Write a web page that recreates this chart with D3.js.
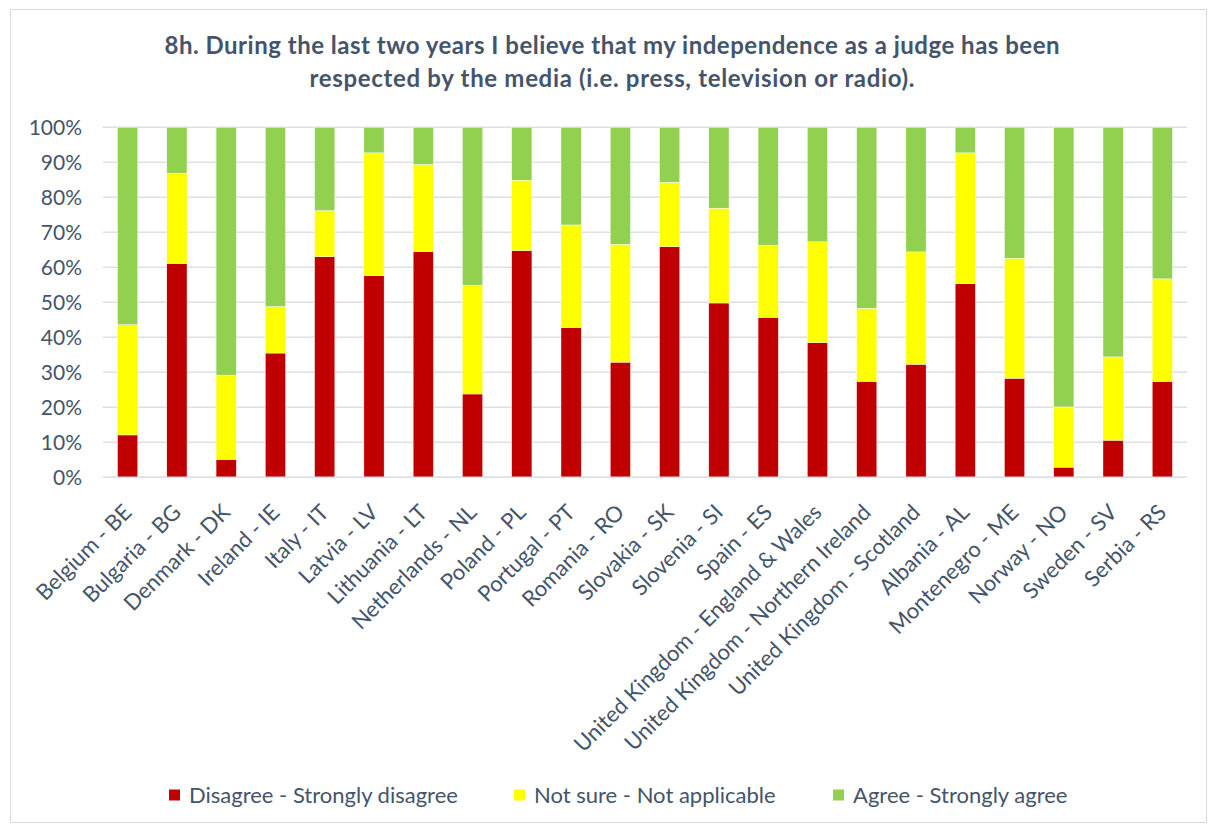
<!DOCTYPE html>
<html>
<head>
<meta charset="utf-8">
<script src="https://cdn.jsdelivr.net/npm/d3@7"></script>
<style>
  html, body { margin: 0; padding: 0; background: #fff; }
  svg { display: block; }
  text { font-family: Lato, "Open Sans", sans-serif; fill: #44546A; }
</style>
</head>
<body>
<svg id="chart" width="1210" height="827"></svg>
<script>
const categories = [
  "Belgium - BE", "Bulgaria - BG", "Denmark - DK", "Ireland - IE", "Italy - IT",
  "Latvia - LV", "Lithuania - LT", "Netherlands - NL", "Poland - PL", "Portugal - PT",
  "Romania - RO", "Slovakia - SK", "Slovenia - SI", "Spain - ES",
  "United Kingdom - England & Wales", "United Kingdom - Northern Ireland",
  "United Kingdom - Scotland", "Albania - AL", "Montenegro - ME", "Norway - NO",
  "Sweden - SV", "Serbia - RS"
];
const disagree = [12.1, 61.1, 5.1, 35.5, 63.0, 57.6, 64.5, 23.8, 64.8, 42.8, 32.9, 65.9, 49.8, 45.7, 38.5, 27.4, 32.3, 55.3, 28.3, 2.9, 10.6, 27.4];
const notSure  = [31.5, 25.8, 24.1, 13.3, 13.2, 35.1, 24.9, 31.1, 20.1, 29.3, 33.7, 18.4, 27.1, 20.6, 28.8, 20.9, 32.1, 37.4, 34.3, 17.2, 23.8, 29.3];
const agree    = disagree.map((d, i) => +(100 - d - notSure[i]).toFixed(1));
const seriesNames = ["Disagree - Strongly disagree", "Not sure - Not applicable", "Agree - Strongly agree"];
const seriesColors = ["#C00000", "#FFFF00", "#92D050"];
const yTicks = [0, 10, 20, 30, 40, 50, 60, 70, 80, 90, 100];
const titleLines = [
  "8h. During the last two years I believe that my independence as a judge has been",
  "respected by the media (i.e. press, television or radio)."
];

const svg = d3.select("#chart");

// outer chart border
svg.append("rect").attr("x", 10.5).attr("y", 9.5).attr("width", 1196).attr("height", 813)
  .attr("fill", "#fff").attr("stroke", "#D9D9D9").attr("stroke-width", 1);

const plot = { left: 103, right: 1187, top: 127.3, bottom: 477.3 };

const x = d3.scaleBand().domain(categories).range([plot.left, plot.right]).paddingInner(0.59).paddingOuter(0.295);
const y = d3.scaleLinear().domain([0, 100]).range([plot.bottom, plot.top]);

// gridlines
svg.append("g").selectAll("line").data(yTicks).join("line")
  .attr("x1", plot.left).attr("x2", plot.right)
  .attr("y1", d => y(d)).attr("y2", d => y(d))
  .attr("stroke", "#DCE0E6").attr("stroke-width", 1.5);

// y axis
const yAxis = d3.axisLeft(y).tickValues(yTicks).tickFormat(d => d + "%").tickSize(0).tickPadding(0);
const yg = svg.append("g").attr("transform", `translate(${82},0)`).call(yAxis);
yg.select(".domain").remove();
yg.selectAll("text").attr("font-size", 21).style("font-family", "Lato, sans-serif").attr("fill", "#44546A");

// stacked data
const rows = categories.map((c, i) => ({ cat: c, s0: disagree[i], s1: notSure[i], s2: agree[i] }));
const stack = d3.stack().keys(["s0", "s1", "s2"]);
const stacked = stack(rows);

svg.append("g").selectAll("g").data(stacked).join("g")
  .attr("fill", (d, i) => seriesColors[i])
  .selectAll("rect").data(d => d).join("rect")
  .attr("x", d => x(d.data.cat))
  .attr("width", x.bandwidth())
  .attr("y", d => y(d[1]))
  .attr("height", d => y(d[0]) - y(d[1]))
  .attr("stroke", "#fff").attr("stroke-width", 0.4);

// baseline
svg.append("line").attr("x1", plot.left).attr("x2", plot.right)
  .attr("y1", y(0)).attr("y2", y(0)).attr("stroke", "#DCE0E6").attr("stroke-width", 1.5);

// x axis labels
const xAxis = d3.axisBottom(x).tickSize(0).tickPadding(0);
const xg = svg.append("g").attr("transform", `translate(0,${plot.bottom})`).call(xAxis);
xg.select(".domain").remove();
xg.selectAll("text")
  .attr("font-size", 22).style("font-family", "Lato, sans-serif").attr("fill", "#44546A")
  .attr("text-anchor", "end")
  .attr("y", 0).attr("dy", "0.35em")
  .attr("transform", "translate(0,31) rotate(-45)");

// title
const titleWidths = [895, 605];
svg.append("g").selectAll("text").data(titleLines).join("text")
  .attr("x", 612).attr("y", (d, i) => 54 + i * 33)
  .attr("text-anchor", "middle")
  .attr("font-size", 24).attr("font-weight", "bold")
  .attr("fill", "#44546A")
  .attr("textLength", (d, i) => titleWidths[i])
  .attr("lengthAdjust", "spacing")
  .text(d => d);

// legend
const legendX = [169, 514, 833];
const lg = svg.append("g").selectAll("g").data(seriesNames).join("g")
  .attr("transform", (d, i) => `translate(${legendX[i]},795)`);
lg.append("rect").attr("x", 0).attr("y", -5.5).attr("width", 11).attr("height", 11)
  .attr("fill", (d, i) => seriesColors[i]);
lg.append("text").attr("x", 20).attr("y", 0).attr("dy", "0.35em")
  .attr("font-size", 22).attr("fill", "#44546A").text(d => d);
</script>
</body>
</html>
